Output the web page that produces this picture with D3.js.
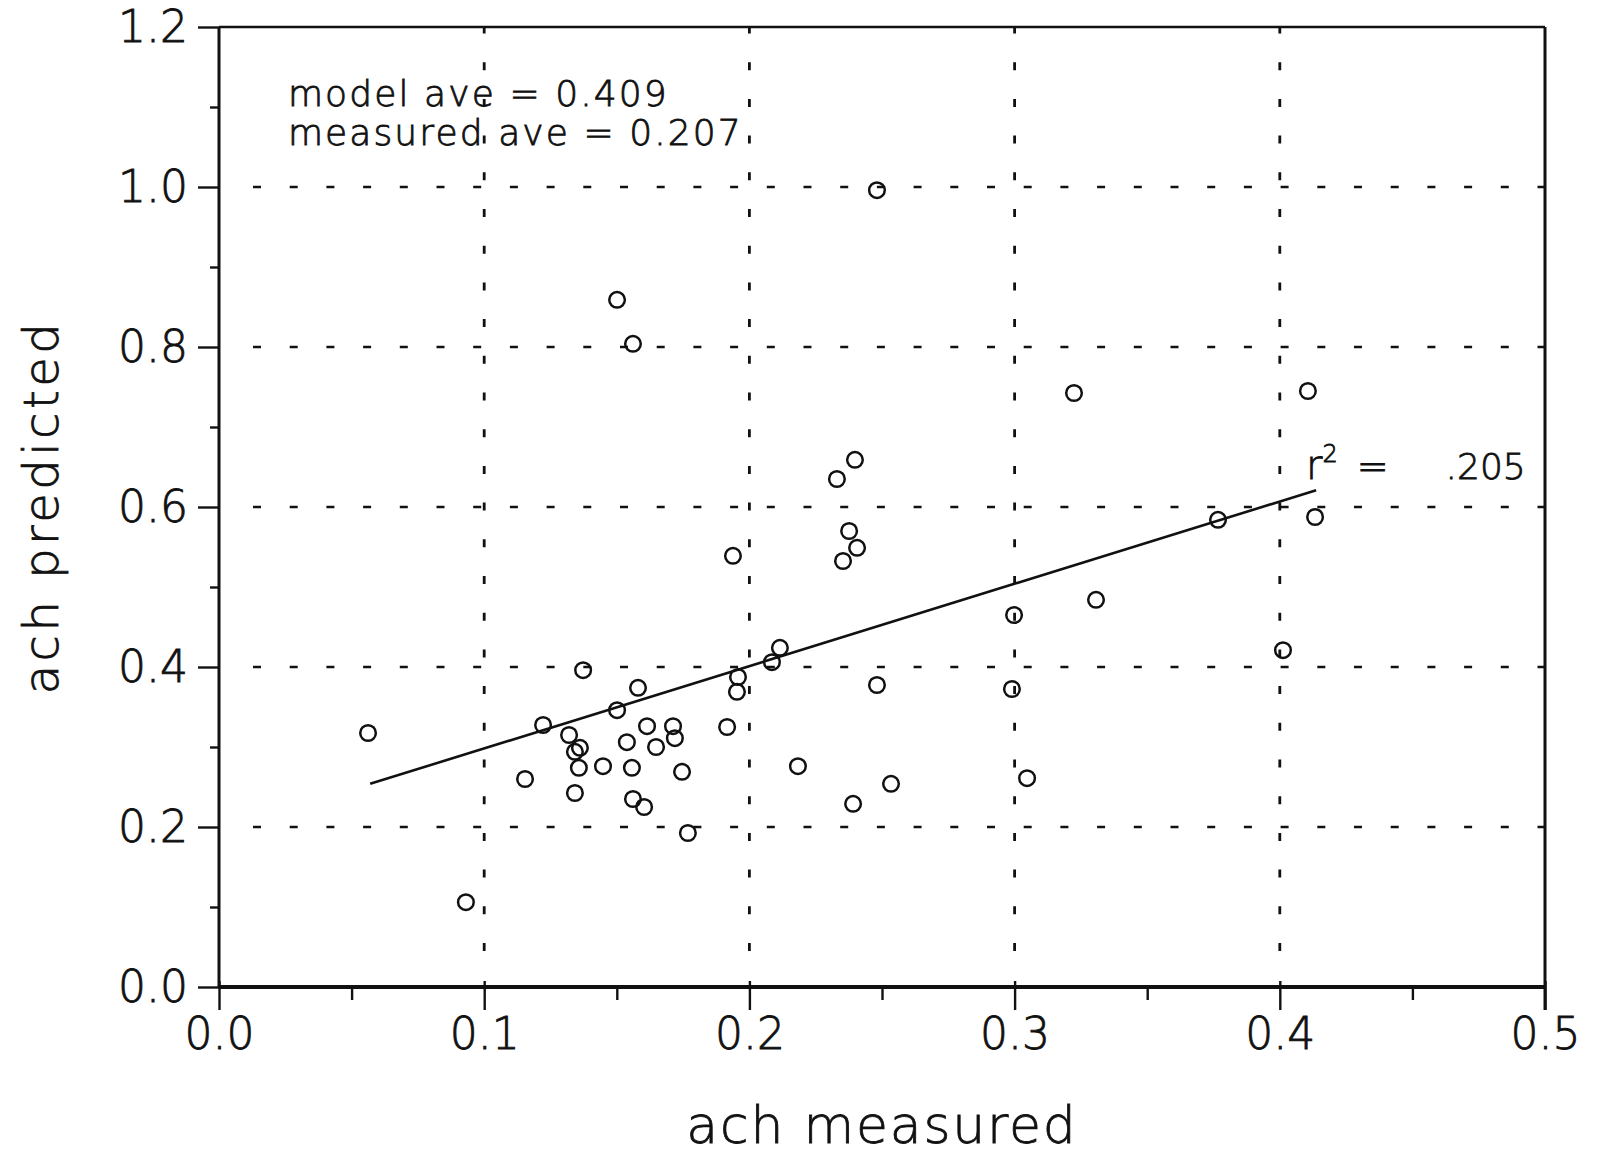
<!DOCTYPE html>
<html>
<head>
<meta charset="utf-8">
<script src="https://cdn.jsdelivr.net/npm/d3@7"></script>
<style>
  html, body { margin: 0; padding: 0; background: #fff; }
  svg text { font-family: "DejaVu Sans", sans-serif; font-weight: 200; fill: #111; stroke: #111; stroke-width: 0.8px; }
</style>
</head>
<body>
<svg id="chart" width="1597" height="1160"></svg>
<script>
// ---- data ----
const measured = [0.0562, 0.0931, 0.1154, 0.1222, 0.1320, 0.1361, 0.1342, 0.1357, 0.1342, 0.1373,
                  0.1448, 0.1501, 0.1538, 0.1557, 0.1561, 0.1580, 0.1603, 0.1614, 0.1648, 0.1712,
                  0.1719, 0.1746, 0.1768, 0.1916, 0.1957, 0.1953, 0.1938, 0.1501, 0.1561, 0.2085,
                  0.2115, 0.2183, 0.2330, 0.2398, 0.2376, 0.2406, 0.2353, 0.2391, 0.2481, 0.2481,
                  0.2534, 0.2998, 0.2990, 0.3047, 0.3224, 0.3307, 0.3767, 0.4106, 0.4133, 0.4012];
const predicted = [0.3175, 0.106, 0.260, 0.3275, 0.315, 0.299, 0.294, 0.274, 0.2425, 0.396,
                   0.276, 0.346, 0.306, 0.274, 0.235, 0.374, 0.225, 0.326, 0.300, 0.326,
                   0.311, 0.269, 0.1925, 0.325, 0.3875, 0.369, 0.539, 0.859, 0.804, 0.406,
                   0.424, 0.276, 0.635, 0.659, 0.570, 0.549, 0.5325, 0.229, 0.996, 0.3775,
                   0.254, 0.465, 0.3725, 0.261, 0.7425, 0.484, 0.584, 0.745, 0.5875, 0.421];
const fitX = [0.057, 0.4137];
const fitY = [0.254, 0.621];
const xTicks = [0.0, 0.1, 0.2, 0.3, 0.4, 0.5];
const xMinorTicks = [0.05, 0.15, 0.25, 0.35, 0.45];
const yTicks = [0.0, 0.2, 0.4, 0.6, 0.8, 1.0, 1.2];
const yMinorTicks = [0.1, 0.3, 0.5, 0.7, 0.9, 1.1];
const xGrid = [0.1, 0.2, 0.3, 0.4];
const yGrid = [0.2, 0.4, 0.6, 0.8, 1.0];
const xLabel = "ach measured";
const yLabel = "ach predicted";
const notes = ["model ave = 0.409", "measured ave = 0.207"];
const r2Value = ".205";

// ---- layout ----
const svg = d3.select("#chart");
const plotLeft = 219, plotRight = 1545, plotTop = 27, plotBottom = 987;
const x = d3.scaleLinear().domain([0, 0.5]).range([plotLeft, plotRight]);
const y = d3.scaleLinear().domain([0, 1.2]).range([plotBottom, plotTop]);

// grid
const dash = "8 28.7";
svg.append("g").selectAll("line").data(yGrid).join("line")
  .attr("x1", x(0) + 34).attr("x2", x(0.5))
  .attr("y1", d => y(d)).attr("y2", d => y(d))
  .attr("stroke", "#111").attr("stroke-width", 2.6)
  .attr("stroke-dasharray", dash);
svg.append("g").selectAll("line").data(xGrid).join("line")
  .attr("x1", d => x(d)).attr("x2", d => x(d))
  .attr("y1", y(0) - 36).attr("y2", y(1.2))
  .attr("stroke", "#111").attr("stroke-width", 2.8)
  .attr("stroke-dasharray", dash);

// axes
const fmt = d3.format(".1f");
const gy = svg.append("g").attr("transform", `translate(${plotLeft},0)`)
  .call(d3.axisLeft(y).tickValues(yTicks).tickSize(21).tickPadding(10).tickFormat(fmt));
const gyMinor = svg.append("g").attr("transform", `translate(${plotLeft},0)`)
  .call(d3.axisLeft(y).tickValues(yMinorTicks).tickSize(9).tickFormat(""));
const gx = svg.append("g").attr("transform", `translate(0,${plotBottom})`)
  .call(d3.axisBottom(x).tickValues(xTicks).tickSize(23).tickPadding(8).tickFormat(fmt));
const gxMinor = svg.append("g").attr("transform", `translate(0,${plotBottom})`)
  .call(d3.axisBottom(x).tickValues(xMinorTicks).tickSize(13).tickFormat(""));
[gy, gyMinor, gx, gxMinor].forEach(g => {
  g.select(".domain").remove();
  g.selectAll(".tick line").attr("stroke", "#111").attr("stroke-width", 2.4);
  g.selectAll(".tick text").style("font-size", "44px").style("font-weight", 200)
    .style("font-family", "'DejaVu Sans', sans-serif").attr("fill", "#111");
});
gx.selectAll(".tick line").attr("y1", -6);

// frame
svg.append("line").attr("x1", x(0)).attr("x2", x(0)).attr("y1", y(1.2)).attr("y2", y(0))
  .attr("stroke", "#111").attr("stroke-width", 3);
svg.append("line").attr("x1", x(0)).attr("x2", x(0.5)).attr("y1", y(0)).attr("y2", y(0))
  .attr("stroke", "#111").attr("stroke-width", 4);
svg.append("line").attr("x1", x(0)).attr("x2", x(0.5)).attr("y1", y(1.2)).attr("y2", y(1.2))
  .attr("stroke", "#111").attr("stroke-width", 2.4);
svg.append("line").attr("x1", x(0.5)).attr("x2", x(0.5)).attr("y1", y(1.2)).attr("y2", y(0) + 23)
  .attr("stroke", "#111").attr("stroke-width", 3);

// regression line
svg.append("path")
  .attr("d", d3.line().x(d => x(d[0])).y(d => y(d[1]))(d3.zip(fitX, fitY)))
  .attr("fill", "none").attr("stroke", "#111").attr("stroke-width", 2.6);

// points
svg.append("g").selectAll("circle").data(d3.zip(measured, predicted)).join("circle")
  .attr("cx", d => x(d[0])).attr("cy", d => y(d[1])).attr("r", 7.8)
  .attr("fill", "none").attr("stroke", "#111").attr("stroke-width", 2.5);

// annotations
svg.append("g").selectAll("text").data(notes).join("text")
  .attr("x", x(0.026)).attr("y", (d, i) => y(1.101 - i * 0.048))
  .style("font-size", "36px").style("letter-spacing", "2.1px")
  .text(d => d);

const r2 = svg.append("text").attr("x", x(0.4099)).attr("y", y(0.635)).style("font-size", "40px");
r2.append("tspan").text("r");
r2.append("tspan").attr("dy", -17).style("font-size", "24px").text("2");
svg.append("text").attr("x", x(0.4290)).attr("y", y(0.635)).style("font-size", "38px").text("=");
svg.append("text").attr("x", x(0.4625)).attr("y", y(0.635)).style("font-size", "36px").text(r2Value);

// axis titles
svg.append("text").attr("x", (x(0) + x(0.5)) / 2).attr("y", 1143)
  .attr("text-anchor", "middle").style("font-size", "52px").style("letter-spacing", "1.8px")
  .text(xLabel);
svg.append("text").attr("transform", `translate(58,${y(0.6)}) rotate(-90)`)
  .attr("text-anchor", "middle").style("font-size", "48px").style("letter-spacing", "3.5px")
  .text(yLabel);
</script>
</body>
</html>
